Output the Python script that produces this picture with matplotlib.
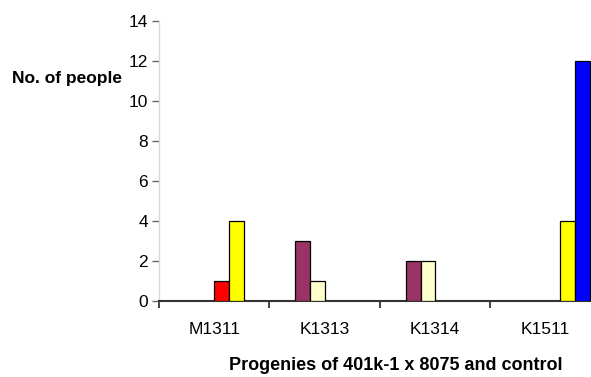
import numpy as np
import matplotlib
matplotlib.use('Agg')
import matplotlib.pyplot as plt

plt.rcParams['font.family'] = ['Liberation Sans', 'DejaVu Sans']

categories = ['M1311', 'K1313', 'K1314', 'K1511']
# six series per group (the first one is empty everywhere)
series_none = [0, 0, 0, 0]
series_purple = [0, 3, 2, 0]
series_cream = [0, 1, 2, 0]
series_red = [1, 0, 0, 0]
series_yellow = [4, 0, 0, 4]
series_blue = [0, 0, 0, 12]
y_ticks = [0, 2, 4, 6, 8, 10, 12, 14]

series = [series_none, series_purple, series_cream, series_red, series_yellow, series_blue]
colors = ['#9999FF', '#993366', '#FFFFCC', '#FF0000', '#FFFF00', '#0000FF']

fig = plt.figure(figsize=(5.91, 3.77), dpi=100)
ax = fig.add_axes([159 / 591, 1 - 300.7 / 377, 442 / 591, 280 / 377])

x = np.arange(len(categories))
n = len(series)
w = 1 / (n + 1.5)
for k, (vals, c) in enumerate(zip(series, colors)):
    pos = x - 0.5 + 0.75 * w + (k + 0.5) * w
    vals = np.array(vals, dtype=float)
    mask = vals > 0
    ax.bar(pos[mask], vals[mask], width=w, color=c, edgecolor='black', linewidth=0.9, zorder=3)

ax.set_xlim(-0.5, len(categories) - 0.5)
ax.set_ylim(0, 14)
ax.set_yticks(y_ticks)
ax.set_yticklabels([str(t) for t in y_ticks], fontsize=12.5)
ax.tick_params(axis='y', length=5, width=1, color='#666666', pad=3)

# boundaries between groups get the tick marks, labels sit in the middle
ax.set_xticks(np.arange(len(categories) + 1) - 0.5)
ax.set_xticklabels([])
ax.set_xticks(x, minor=True)
ax.set_xticklabels(categories, minor=True, fontsize=12.5)
ax.tick_params(axis='x', which='major', length=5, width=1.2, color='#222222')
ax.tick_params(axis='x', which='minor', length=0, pad=15)

for s in ['top', 'right']:
    ax.spines[s].set_visible(False)
ax.spines['left'].set_color('#d8d8d8')
ax.spines['left'].set_linewidth(1)
ax.spines['bottom'].set_color('#333333')
ax.spines['bottom'].set_linewidth(1.5)

fig.text(12 / 591, 1 - 78 / 377, 'No. of people', fontsize=12.5, fontweight='bold', va='center', ha='left')
fig.text(396 / 591, 1 - 366 / 377, 'Progenies of 401k-1 x 8075 and control', fontsize=13,
         fontweight='bold', va='center', ha='center')

fig.savefig('out.png', dpi=100)
